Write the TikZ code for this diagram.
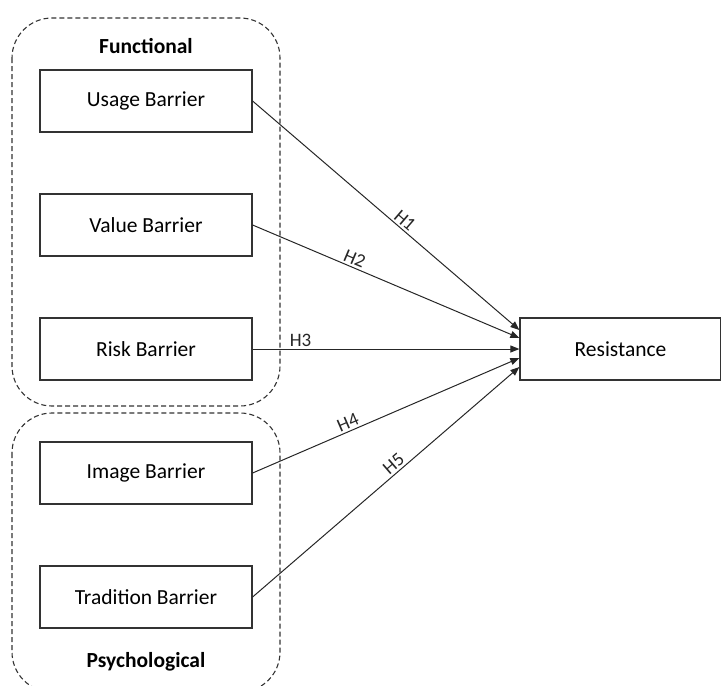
\documentclass[tikz,border=0pt]{standalone}
\usepackage{fontspec}
\setmainfont{Carlito}
\usetikzlibrary{arrows.meta,positioning,calc}

\tikzset{
  barrier/.style={draw=black!80, line width=1.2pt, minimum width=212pt, minimum height=62pt,
    inner sep=0pt, font=\fontsize{21.5}{25}\selectfont},
  group/.style={draw=black!80, dash pattern=on 5pt off 3pt, rounded corners=40pt, line width=1.1pt},
  effect/.style={line width=1pt, black!85, -{Triangle[length=9pt,width=7pt]}},
  hyp/.style={font=\fontsize{19}{22}\selectfont, sloped, above, inner sep=2pt},
  grouplabel/.style={font=\fontsize{21.5}{25}\selectfont\bfseries}
}

\begin{document}
\begin{tikzpicture}[x=1pt, y=-1pt]
\useasboundingbox (0,0) rectangle (721,686);

% Dashed groups
\draw[group] (12,18) rectangle (280,406);
\draw[group] (12,413) rectangle (280,692);
\node[grouplabel] (functional) at (146,46) {Functional};
\node[grouplabel] (psychological) at (146,662) {Psychological};

% Barrier boxes
\node[barrier] (usage) at (146,101) {Usage Barrier};
\node[barrier] (value) at (146,225) {Value Barrier};
\node[barrier] (risk) at (146,349) {Risk Barrier};
\node[barrier] (image) at (146,473) {Image Barrier};
\node[barrier] (tradition) at (146,597) {Tradition Barrier};

% Outcome
\node[barrier, minimum width=201pt] (resistance) at (620.5,349) {Resistance};

% Arrow end points on the outcome box
\coordinate (r1) at ($(resistance.west)+(0,-19)$);
\coordinate (r2) at ($(resistance.west)+(0,-11)$);
\coordinate (r3) at (resistance.west);
\coordinate (r4) at ($(resistance.west)+(0,9)$);
\coordinate (r5) at ($(resistance.west)+(0,18)$);

% Hypotheses
\draw[effect] (usage.east) -- (r1) node[hyp, pos=0.55] {H1};
\draw[effect] (value.east) -- (r2) node[hyp, pos=0.37] {H2};
\draw[effect] (risk.east) -- (r3) node[hyp, pos=0.18] {H3};
\draw[effect] (image.east) -- (r4) node[hyp, pos=0.37] {H4};
\draw[effect] (tradition.east) -- (r5) node[hyp, pos=0.55] {H5};

\end{tikzpicture}
\end{document}
